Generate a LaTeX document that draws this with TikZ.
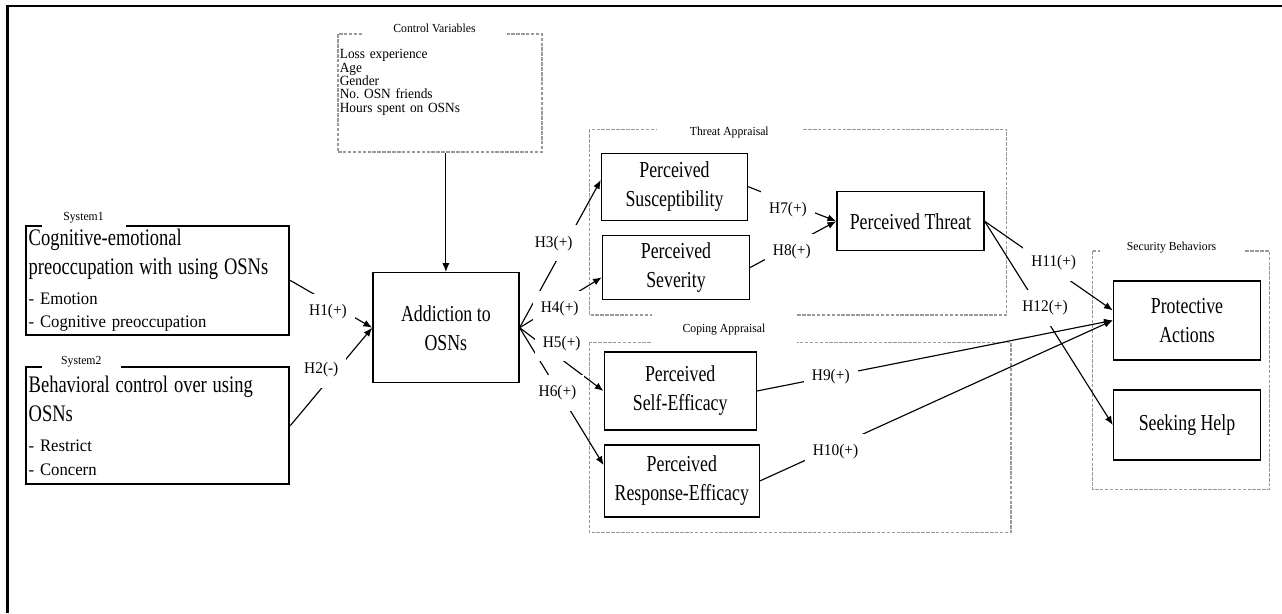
\documentclass[tikz,border=0pt]{standalone}
\usepackage{fontspec}
\setmainfont{Liberation Serif}
\newfontfamily\condserif[FakeStretch=0.78]{Liberation Serif}
\newfontfamily\labelserif[FakeStretch=0.95]{Liberation Serif}
\usetikzlibrary{arrows.meta}
\newlength\pxl
\setlength\pxl{0.02cm}
\newcommand\sysbig{\condserif\fontsize{13.5}{16.5}\selectfont}
\newcommand\sysitem{\labelserif\fontsize{10}{13.4}\selectfont}
\newcommand\ctrlfont{\labelserif\fontsize{8}{7.6}\selectfont}
\tikzset{
  construct/.style={draw,line width=0.8pt,align=center,inner sep=0pt,
    font=\condserif\fontsize{13}{16.5}\selectfont},
  system/.style={draw,line width=1.2pt,align=left,inner xsep=2\pxl,inner ysep=0pt,
    text width=258\pxl,minimum width=263\pxl},
  group/.style={draw=black!40,dash pattern=on 2pt off 0.8pt,line width=0.6pt},
  grouplabel/.style={fill=white,inner sep=0pt,minimum width=145\pxl,minimum height=30\pxl,
    font=\labelserif\fontsize{7}{8}\selectfont},
  hyp/.style={fill=white,inner xsep=8\pxl,inner ysep=0pt,minimum height=36\pxl,
    font=\labelserif\fontsize{9.2}{11}\selectfont},
  link/.style={-{Latex[length=5pt,width=4pt]},line width=0.65pt},
}
\begin{document}
\begin{tikzpicture}[x=0.02cm,y=-0.02cm]
\useasboundingbox (0,0) rectangle (1282,613);
% frame
\draw[line width=1.2pt] (7.5,613) -- (7.5,6) -- (1282,6);
% groups
\draw[group] (589.3,129.3) rectangle (1006.7,315);
\draw[group] (589.3,342.7) rectangle (1011,532.3);
\draw[group] (1092.3,251) rectangle (1269.3,489.3);
\node[group,minimum width=204\pxl,minimum height=118\pxl] (ctrl) at (440,93) {};
\node[anchor=north west,align=left,inner sep=0pt,text width=195\pxl,font=\ctrlfont] (items) at (339.5,49)
  {\lineskiplimit=-5pt Loss experience\\Age\\Gender\\No.\ OSN friends\\Hours spent on OSNs};
\node[grouplabel] (ctrllab) at (434.5,28) {Control Variables};
\node[grouplabel] (thrlab) at (729.3,132.7) {Threat Appraisal};
\node[grouplabel,minimum height=36\pxl] (coplab) at (724,330) {Coping Appraisal};
\node[grouplabel,minimum width=144\pxl] (seclab) at (1171.6,248) {Security Behaviors};
% systems
\node[system,minimum height=109\pxl] (sys1) at (157.7,280.4)
  {{\sysbig Cognitive-emotional\\preoccupation with using OSNs\par}
   {\sysitem\setlength\baselineskip{17pt}- Emotion\par}
   {\sysitem - Cognitive preoccupation\par}};
\node[system,minimum height=117\pxl] (sys2) at (157.7,425.7)
  {{\sysbig Behavioral control over using\\OSNs\par}
   {\sysitem\setlength\baselineskip{17pt}- Restrict\par}
   {\sysitem - Concern\par}};
\node[grouplabel,minimum width=84\pxl,minimum height=18\pxl] (s1lab) at (83.5,218) {System1};
\node[grouplabel,minimum width=79\pxl,minimum height=18\pxl] (s2lab) at (81.3,361.7) {System2};
% constructs
\node[construct,minimum width=146\pxl,minimum height=110\pxl] (add) at (445.9,327.7) {Addiction to\\OSNs};
\node[construct,minimum width=146\pxl,minimum height=67\pxl] (sus) at (674.5,186.7) {Perceived\\Susceptibility};
\node[construct,minimum width=147\pxl,minimum height=64\pxl] (sev) at (676,267.5) {Perceived\\Severity};
\node[construct,minimum width=147\pxl,minimum height=59\pxl] (thr) at (910.4,221.2) {Perceived Threat};
\node[construct,minimum width=152\pxl,minimum height=78\pxl] (sel) at (680.2,391) {Perceived\\Self-Efficacy};
\node[construct,minimum width=155\pxl,minimum height=72\pxl] (res) at (681.8,480.9) {Perceived\\Response-Efficacy};
\node[construct,minimum width=147\pxl,minimum height=79\pxl] (pro) at (1187,320.4) {Protective\\Actions};
\node[construct,minimum width=147\pxl,minimum height=70\pxl] (help) at (1187,425) {Seeking Help};
% paths
\draw[link] (add.north |- ctrl.south) -- (add.north);
\draw[link] (sys1.east) -- (add.west);
\draw[link] (sys2.east) -- (add.west);
\draw[link] (add.east) -- ([yshift=3.8pt]sus.west);
\draw[link] (add.east) -- ([yshift=-5.6pt]sev.west);
\draw[link] (add.east) -- (sel.west);
\draw[link] (add.east) -- ([yshift=9pt]res.west);
\draw[link] (sus.east) -- (thr.west);
\draw[link] (sev.east) -- (thr.west);
\draw[link] (sel.east) -- (pro.west);
\draw[link] (res.east) -- (pro.west);
\draw[link] (thr.east) -- ([yshift=5.7pt]pro.west);
\draw[link] (thr.east) -- (help.west);
% hypotheses
\node[hyp] (h1) at (328,311.7) {H1(+)};
\node[hyp] (h2) at (321.3,370) {H2(-)};
\node[hyp] (h3) at (553.7,243.3) {H3(+)};
\node[hyp] (h4) at (559.7,309) {H4(+)};
\node[hyp] (h5) at (561.7,343.3) {H5(+)};
\node[hyp] (h6) at (557.5,393) {H6(+)};
\node[hyp] (h7) at (788,209.3) {H7(+)};
\node[hyp] (h8) at (791.8,252) {H8(+)};
\node[hyp] (h9) at (830.8,376.7) {H9(+)};
\node[hyp] (h10) at (835.5,451.7) {H10(+)};
\node[hyp] (h11) at (1053.7,262.5) {H11(+)};
\node[hyp] (h12) at (1045,307.5) {H12(+)};
\end{tikzpicture}
\end{document}
